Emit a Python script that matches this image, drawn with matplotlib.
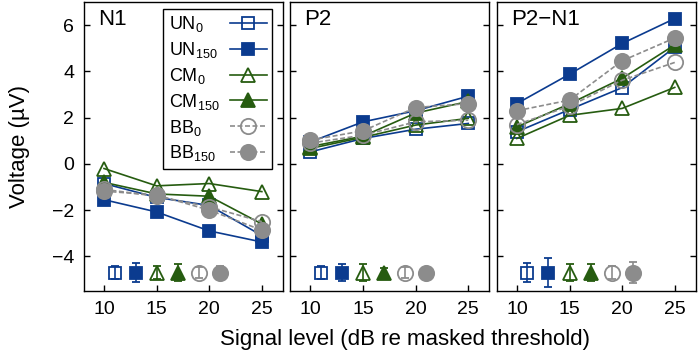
import numpy as np
import matplotlib
matplotlib.use('Agg')
import matplotlib.pyplot as plt

plt.rcParams['font.family'] = ['Liberation Sans', 'DejaVu Sans']
plt.rcParams['mathtext.fontset'] = 'custom'
plt.rcParams['mathtext.rm'] = 'Liberation Sans'
plt.rcParams['mathtext.it'] = 'Liberation Sans'

levels = [10, 15, 20, 25]
conds = ['UN$_0$', 'UN$_{150}$', 'CM$_0$', 'CM$_{150}$', 'BB$_0$', 'BB$_{150}$']

# N1
n1_un0 = [-0.85, -1.45, -1.8, -3.1]
n1_un150 = [-1.55, -2.08, -2.9, -3.38]
n1_cm0 = [-0.2, -0.95, -0.85, -1.2]
n1_cm150 = [-0.8, -1.3, -1.4, -2.6]
n1_bb0 = [-1.1, -1.4, -1.86, -2.5]
n1_bb150 = [-1.18, -1.35, -2.0, -2.87]
# P2
p2_un0 = [0.52, 1.1, 1.5, 1.75]
p2_un150 = [0.95, 1.82, 2.3, 2.93]
p2_cm0 = [0.67, 1.15, 1.68, 1.97]
p2_cm150 = [0.75, 1.2, 2.2, 2.7]
p2_bb0 = [0.9, 1.24, 1.82, 1.89]
p2_bb150 = [1.03, 1.43, 2.44, 2.61]
# P2-N1
pn_un0 = [1.39, 2.35, 3.3, 5.05]
pn_un150 = [2.61, 3.88, 5.21, 6.29]
pn_cm0 = [1.1, 2.1, 2.4, 3.31]
pn_cm150 = [1.6, 2.6, 3.7, 5.15]
pn_bb0 = [1.7, 2.5, 3.62, 4.39]
pn_bb150 = [2.3, 2.76, 4.46, 5.45]

# mean error bars shown at the bottom of each panel
err_x = [11, 13, 15, 17, 19, 21]
err_y = -4.7
n1_err = [0.3, 0.4, 0.3, 0.35, 0.25, 0.3]
p2_err = [0.3, 0.35, 0.35, 0.2, 0.25, 0.1]
pn_err = [0.43, 0.64, 0.35, 0.35, 0.3, 0.45]

blue = '#0b3b8f'
green = '#265c10'
gray = '#8c8c8c'
styles = [
    dict(color=blue, marker='s', mfc='none', mec=blue, ls='-'),
    dict(color=blue, marker='s', mfc=blue, mec=blue, ls='-'),
    dict(color=green, marker='^', mfc='none', mec=green, ls='-'),
    dict(color=green, marker='^', mfc=green, mec=green, ls='-'),
    dict(color=gray, marker='o', mfc='none', mec=gray, ls='--'),
    dict(color=gray, marker='o', mfc=gray, mec=gray, ls='--'),
]
sizes = [9, 9, 10.5, 10.5, 11, 11]

panels = [
    ('N1', [n1_un0, n1_un150, n1_cm0, n1_cm150, n1_bb0, n1_bb150], n1_err),
    ('P2', [p2_un0, p2_un150, p2_cm0, p2_cm150, p2_bb0, p2_bb150], p2_err),
    ('P2\u2212N1', [pn_un0, pn_un150, pn_cm0, pn_cm150, pn_bb0, pn_bb150], pn_err),
]

fig, axes = plt.subplots(1, 3, figsize=(7, 3.54), dpi=100, sharey=True)
fig.subplots_adjust(left=0.12, right=0.994, top=0.994, bottom=0.178, wspace=0.038)

for ax, (name, series, errs) in zip(axes, panels):
    for i in range(6):
        st = styles[i]
        ax.plot(levels, series[i], color=st['color'], ls=st['ls'], lw=1.2,
                marker=st['marker'], mfc=st['mfc'], mec=st['mec'], mew=1.3,
                ms=sizes[i], label=conds[i], dashes=(3, 1.5) if st['ls'] == '--' else (None, None))
    for i in range(6):
        st = styles[i]
        ax.errorbar(err_x[i], err_y, yerr=errs[i], color=st['color'], elinewidth=1.2,
                    capsize=3, capthick=1.2, marker=st['marker'], mfc=st['mfc'],
                    mec=st['mec'], mew=1.3, ms=sizes[i], ls='none')
    ax.text(0.07, 0.975, name, transform=ax.transAxes, fontsize=16, va='top', ha='left')
    ax.set_xlim(8.1, 27)
    ax.set_ylim(-5.5, 7)
    ax.set_xticks(levels)
    ax.set_yticks([-4, -2, 0, 2, 4, 6])
    ax.tick_params(direction='in', length=4, width=1, labelsize=14, right=True, top=False)
    ax.tick_params(axis='x', pad=7)
    ax.tick_params(axis='y', pad=7)
    for s in ax.spines.values():
        s.set_linewidth(1.0)

axes[0].set_yticklabels(['\u22124', '\u22122', '0', '2', '4', '6'])
axes[0].set_ylabel('Voltage (\u00b5V)', fontsize=16)
axes[0].yaxis.set_label_coords(-0.27, 0.5)
fig.text(0.579, 0.012, 'Signal level (dB re masked threshold)', fontsize=16, ha='center', va='bottom')

leg = axes[0].legend(loc='upper right', bbox_to_anchor=(0.945, 0.976), borderaxespad=0,
                     markerfirst=False, fontsize=13, labelspacing=0.32, handlelength=2.0,
                     handletextpad=0.6, borderpad=0.3, fancybox=False, framealpha=1)
leg.get_frame().set_edgecolor('black')
leg.get_frame().set_linewidth(1.0)

# left-align the legend texts while keeping handles on the right
fig.canvas.draw()
r = fig.canvas.get_renderer()
ws = [t.get_window_extent(r).width for t in leg.get_texts()]
maxw = max(ws)
items = leg._legend_handle_box.get_children()[0].get_children()
for hp, w in zip(items, ws):
    hp.sep = hp.sep + (maxw - w) * 72.0 / fig.dpi

fig.savefig('out.png', dpi=100)
